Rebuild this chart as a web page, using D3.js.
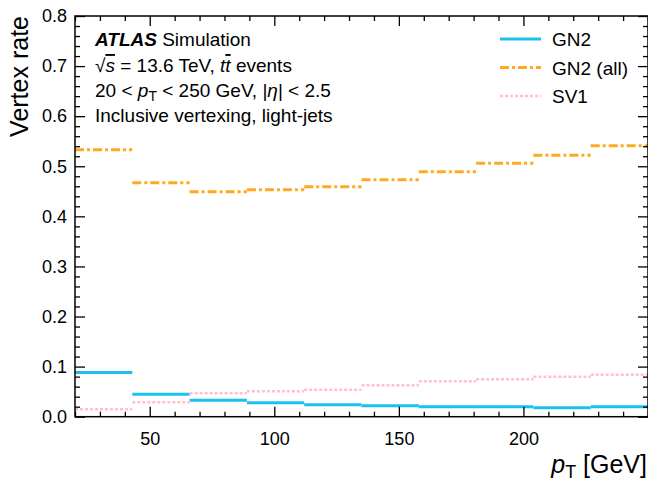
<!DOCTYPE html>
<html>
<head>
<meta charset="utf-8">
<script src="https://cdn.jsdelivr.net/npm/d3@7"></script>
<style>
  body { margin: 0; background: #fff; }
  text { font-family: "Liberation Sans", Arial, sans-serif; fill: #000; }
</style>
</head>
<body>
<div id="chart"></div>
<script>
// bin edges in pT [GeV]
var binEdges = [20, 43, 66, 89, 112, 135, 158, 181, 204, 227, 250];

// vertex rate per bin
var gn2 = [0.088, 0.045, 0.033, 0.028, 0.024, 0.022, 0.020, 0.020, 0.018, 0.020];
var gn2All = [0.533, 0.467, 0.449, 0.453, 0.459, 0.473, 0.489, 0.506, 0.522, 0.541];
var sv1 = [0.015, 0.029, 0.047, 0.051, 0.054, 0.063, 0.071, 0.075, 0.080, 0.084];

var xTicks = [50, 100, 150, 200];
var yTicks = [0, 0.1, 0.2, 0.3, 0.4, 0.5, 0.6, 0.7, 0.8];

var series = [
  {name: "GN2", values: gn2, color: "#1cbff2", dash: null, width: 3},
  {name: "GN2 (all)", values: gn2All, color: "#ffaa1e", dash: "9,3,3,3", width: 3},
  {name: "SV1", values: sv1, color: "#ffc0cb", dash: "3,2", width: 2.5}
];

var W = 648, H = 482;
var margin = {top: 16, right: 0, bottom: 65, left: 75};

var svg = d3.select("#chart")
  .append("svg")
  .attr("width", W)
  .attr("height", H);

var x = d3.scaleLinear()
  .domain([20, 250])
  .range([margin.left, W - margin.right]);

var y = d3.scaleLinear()
  .domain([0, 0.8])
  .range([H - margin.bottom - 0.3, margin.top]);

var plotL = x.range()[0], plotR = x.range()[1];
var plotB = y.range()[0], plotT = y.range()[1];

// clip for the lines
svg.append("clipPath").attr("id", "clip")
  .append("rect")
  .attr("x", plotL).attr("y", plotT)
  .attr("width", plotR - plotL).attr("height", plotB - plotT);

// histogram bins, one segment each
var lines = svg.append("g").attr("clip-path", "url(#clip)");
series.forEach(function(s) {
  var segs = s.values.map(function(v, i) {
    return {x0: binEdges[i], x1: binEdges[i + 1], v: v};
  });
  lines.append("g")
    .selectAll("line")
    .data(segs)
    .join("line")
    .attr("x1", d => x(d.x0))
    .attr("x2", d => x(d.x1))
    .attr("y1", d => y(d.v))
    .attr("y2", d => y(d.v))
    .attr("stroke", s.color)
    .attr("stroke-width", s.width)
    .attr("stroke-dasharray", s.dash);
});

// axes, ticks pointing inward on all four sides
var xMinor = d3.range(20, 251, 10).filter(v => xTicks.indexOf(v) < 0);
var yMinor = d3.range(0, 41).map(i => i * 0.02).filter(v => Math.abs(v * 10 - Math.round(v * 10)) > 1e-6);

function styleAxis(g) {
  g.selectAll(".domain").remove();
  g.selectAll(".tick line").attr("stroke", "#000").attr("stroke-width", 1.3);
  g.selectAll("text").style("font-size", "18px");
}

// bottom
svg.append("g")
  .attr("transform", `translate(0,${plotB})`)
  .call(d3.axisBottom(x).tickValues(xTicks).tickSizeInner(-10).tickSizeOuter(0).tickPadding(16).tickFormat(d3.format("d")))
  .call(styleAxis);
svg.append("g")
  .attr("transform", `translate(0,${plotB})`)
  .call(d3.axisBottom(x).tickValues(xMinor).tickSize(-5).tickFormat(""))
  .call(styleAxis);
// top
svg.append("g")
  .attr("transform", `translate(0,${plotT})`)
  .call(d3.axisTop(x).tickValues(xTicks).tickSize(-10).tickFormat(""))
  .call(styleAxis);
svg.append("g")
  .attr("transform", `translate(0,${plotT})`)
  .call(d3.axisTop(x).tickValues(xMinor).tickSize(-5).tickFormat(""))
  .call(styleAxis);
// left
svg.append("g")
  .attr("transform", `translate(${plotL},0)`)
  .call(d3.axisLeft(y).tickValues(yTicks).tickSizeInner(-10).tickSizeOuter(0).tickPadding(8).tickFormat(d3.format(".1f")))
  .call(styleAxis);
svg.append("g")
  .attr("transform", `translate(${plotL},0)`)
  .call(d3.axisLeft(y).tickValues(yMinor).tickSize(-5).tickFormat(""))
  .call(styleAxis);
// right
svg.append("g")
  .attr("transform", `translate(${plotR},0)`)
  .call(d3.axisRight(y).tickValues(yTicks).tickSize(-10).tickFormat(""))
  .call(styleAxis);
svg.append("g")
  .attr("transform", `translate(${plotR},0)`)
  .call(d3.axisRight(y).tickValues(yMinor).tickSize(-5).tickFormat(""))
  .call(styleAxis);

// frame
svg.append("rect")
  .attr("x", plotL).attr("y", plotT)
  .attr("width", plotR - plotL).attr("height", plotB - plotT)
  .attr("fill", "none")
  .attr("stroke", "#000")
  .attr("stroke-width", 1.5);

// axis labels
var xl = svg.append("text")
  .attr("x", plotR - 1)
  .attr("y", 473)
  .attr("text-anchor", "end")
  .style("font-size", "25px");
xl.append("tspan").style("font-style", "italic").text("p");
xl.append("tspan").attr("dy", 5).style("font-size", "18px").text("T");
xl.append("tspan").attr("dy", -5).text(" [GeV]");

svg.append("text")
  .attr("transform", `translate(28,${plotT}) rotate(-90)`)
  .attr("text-anchor", "end")
  .style("font-size", "25px")
  .text("Vertex rate");

// ATLAS label
var tx = 95;
var t1 = svg.append("text").attr("x", tx).attr("y", 46).style("font-size", "19px");
t1.append("tspan").style("font-weight", "bold").style("font-style", "italic").text("ATLAS");
t1.append("tspan").text(" Simulation");

var t2 = svg.append("text").attr("x", tx).attr("y", 72).style("font-size", "19px");
t2.append("tspan").text("\u221A");
t2.append("tspan").style("font-style", "italic").style("text-decoration", "overline").text("s");
t2.append("tspan").text(" = 13.6 TeV, ");
t2.append("tspan").style("font-style", "italic").text("t");
t2.append("tspan").style("font-style", "italic").style("text-decoration", "overline").text("t");
t2.append("tspan").text(" events");

var t3 = svg.append("text").attr("x", tx).attr("y", 97).style("font-size", "19px");
t3.append("tspan").text("20 < ");
t3.append("tspan").style("font-style", "italic").text("p");
t3.append("tspan").attr("dy", 4).style("font-size", "14px").text("T");
t3.append("tspan").attr("dy", -4).text(" < 250 GeV, |");
t3.append("tspan").style("font-style", "italic").text("\u03B7");
t3.append("tspan").text("| < 2.5");

svg.append("text").attr("x", tx).attr("y", 122).style("font-size", "19px")
  .text("Inclusive vertexing, light-jets");

// legend
var legend = svg.append("g")
  .selectAll("g")
  .data(series)
  .join("g")
  .attr("transform", (d, i) => `translate(500,${39 + i * 28.5})`);
legend.append("line")
  .attr("x1", 0).attr("x2", 41)
  .attr("stroke", d => d.color)
  .attr("stroke-width", d => d.width)
  .attr("stroke-dasharray", d => d.dash);
legend.append("text")
  .attr("x", 52)
  .attr("y", 7)
  .style("font-size", "19px")
  .text(d => d.name);
</script>
</body>
</html>
